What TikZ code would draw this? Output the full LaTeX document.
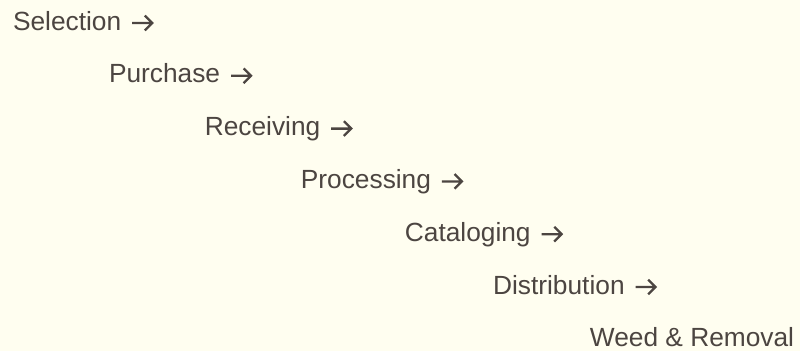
\documentclass[tikz,border=0pt]{standalone}
\usepackage{fontspec}
\setmainfont{Liberation Sans}
\definecolor{paper}{RGB}{255,254,240}
\definecolor{ink}{RGB}{76,69,65}
\tikzset{stage/.style={anchor=base west,inner sep=0pt,text=ink,font=\fontsize{26.3}{30}\selectfont}}
\newcommand\stagearrow{\hspace{9.8pt}\tikz[baseline=0pt,x=1pt,y=1pt]\draw[ink,line width=2.3pt,line join=miter] (0,7)--(20,7) (12.6,14.4)--(20,7)--(12.6,-0.4);}

\begin{document}
\begin{tikzpicture}[x=1pt,y=-1pt]
\fill[paper] (0,0) rectangle (800,351);
\useasboundingbox (0,0) rectangle (800,351);
\coordinate (A) at (12.8,30);
\coordinate (B) at (108.8,82.8);
\coordinate (C) at (204.6,135.6);
\coordinate (D) at (300.7,188.4);
\coordinate (E) at (404.7,241.2);
\coordinate (F) at (492.9,294);
\coordinate (G) at (589.7,346.8);
\node[stage] (sel) at (A) {Selection\stagearrow};
\node[stage] (pur) at (B) {Purchase\stagearrow};
\node[stage] (rec) at (C) {Receiving\stagearrow};
\node[stage] (pro) at (D) {Processing\stagearrow};
\node[stage] (cat) at (E) {Cataloging\stagearrow};
\node[stage] (dis) at (F) {Distribution\stagearrow};
\node[stage] (wee) at (G) {Weed \& Removal};
\end{tikzpicture}
\end{document}
